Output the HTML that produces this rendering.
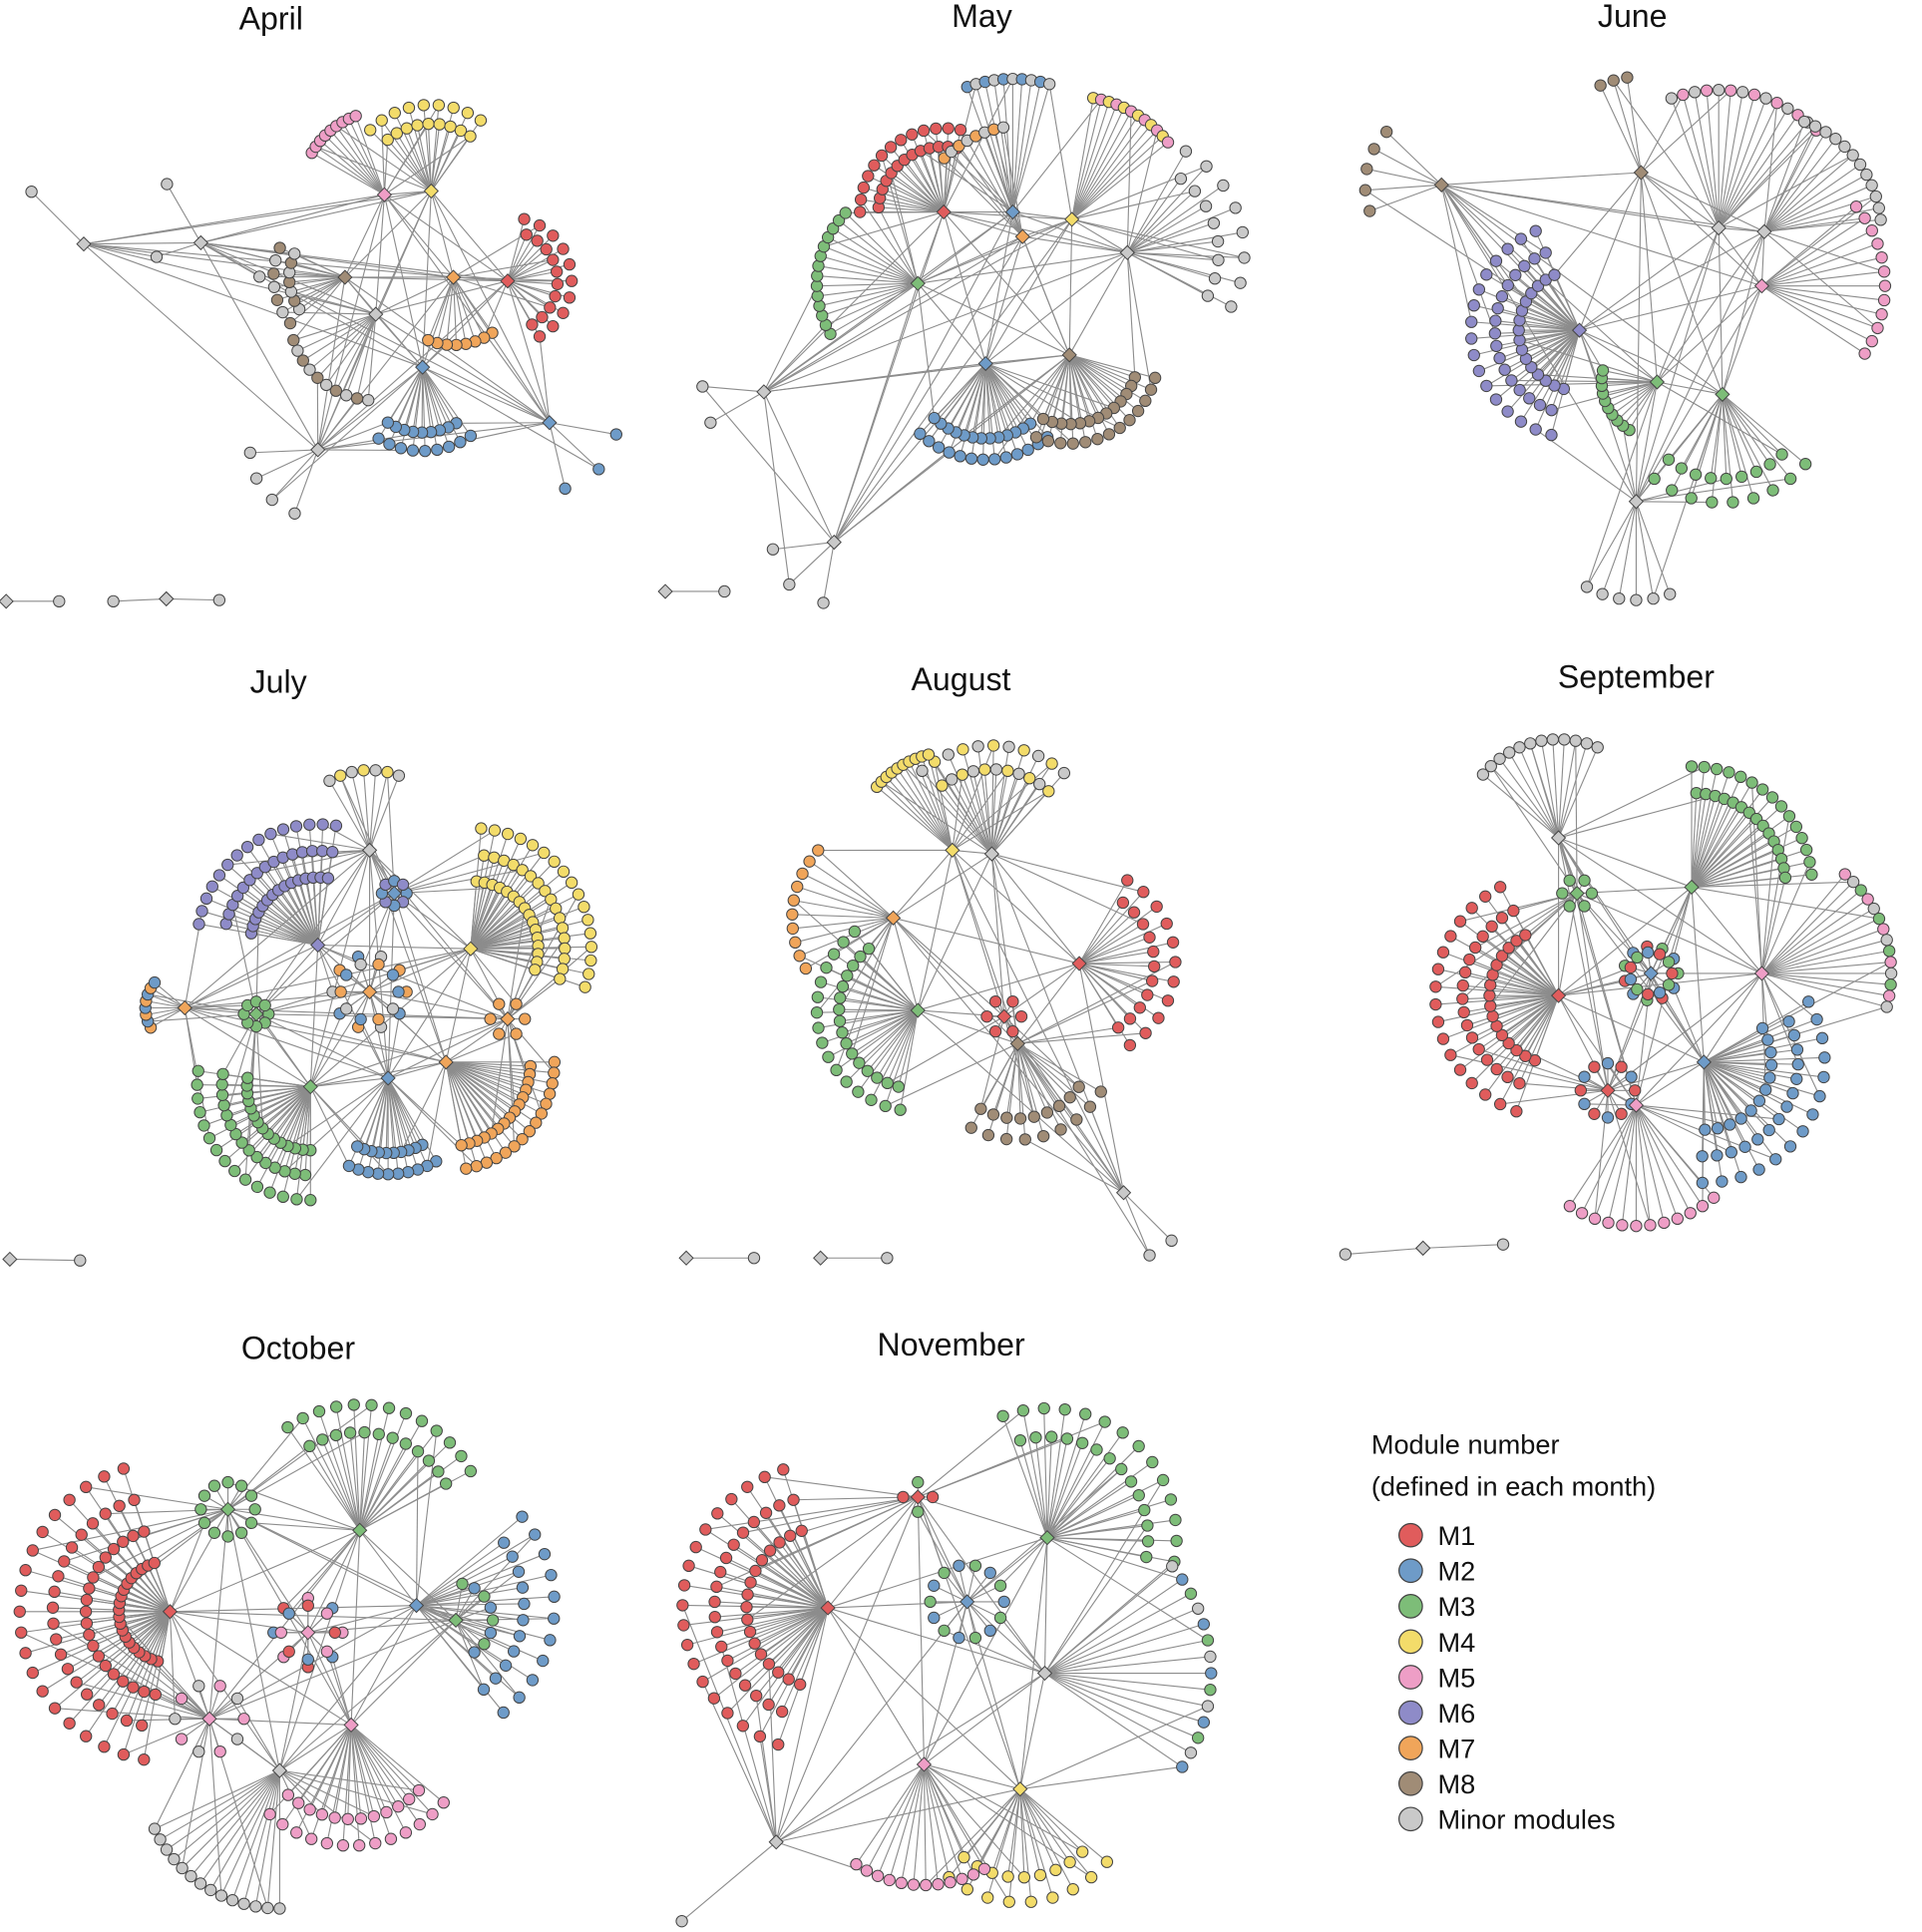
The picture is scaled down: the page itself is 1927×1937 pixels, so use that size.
<!DOCTYPE html>
<html><head><meta charset="utf-8"><style>
html,body{margin:0;padding:0;background:#fff;}
svg{display:block;font-family:"Liberation Sans",Arial,sans-serif;}
</style></head><body>
<svg id="chart" width="1927" height="1937" viewBox="0 0 1560 1568" xmlns="http://www.w3.org/2000/svg">
<g id="edges"></g>
<g id="nodes"></g>
<g font-size="26" fill="#111" text-anchor="middle">
<text x="220" y="24">April</text>
<text x="797" y="22">May</text>
<text x="1325" y="22">June</text>
<text x="226" y="562">July</text>
<text x="780" y="560">August</text>
<text x="1328" y="558">September</text>
<text x="242" y="1103">October</text>
<text x="772" y="1100">November</text>
</g>
<g id="legend" font-size="22" fill="#111">
<text x="1113" y="1180">Module number</text>
<text x="1113" y="1214">(defined in each month)</text>
</g>
</svg>
<script>
const COLORS = {r:'#e05c5c', b:'#6e9bc8', g:'#7dbd78', y:'#f3dc6a', p:'#ee9ec6', v:'#8e8bc8', o:'#f0a55a', m:'#a08c76', x:'#c9c9c9'};
const legendKeys = ['r','b','g','y','p','v','o','m','x'];
const legendLabels = ['M1','M2','M3','M4','M5','M6','M7','M8','Minor modules'];

// cluster data per month: [hubX, hubY, hubColor, leafColors, leafCount, radius, angleStart, angleEnd, rows]
const april = [
 [412,228,'r','r',20,52,-75,75,2],[343,298,'b','b',18,68,55,130,2],[350,155,'y','y',18,70,-135,-45,2],
 [312,158,'p','p',9,68,-150,-105,1],[280,225,'m','mx',14,58,140,215,2],[305,255,'x','xm',10,70,95,170,1],
 [368,225,'o','o',8,55,55,120,1],[163,197,'x','x',2,55,-120,180,1],[68,198,'x','x',2,60,-135,155,1],
 [446,343,'b','b',3,55,10,110,1],[258,365,'x','x',4,55,110,200,1]];
const may = [
 [766,172,'r','r',26,68,180,290,2],[800,295,'b','b',26,78,50,140,2],[868,288,'m','m',26,72,15,120,2],
 [745,230,'g','g',14,82,150,230,1],[915,205,'x','x',16,95,-60,40,2],[822,172,'b','bx',10,108,-110,-70,1],
 [870,178,'y','yp',12,100,-80,-35,1],[830,192,'o','ox',8,90,-135,-95,1],[620,318,'x','x',2,50,150,220,1],
 [677,440,'x','x',3,50,100,210,1]];
const june = [
 [1282,268,'v','v',50,88,105,255,3],[1398,320,'g','g',18,88,40,140,2],[1345,310,'g','g',10,45,120,200,1],
 [1395,185,'x','xp',14,112,-110,-40,1],[1432,188,'x','x',12,95,-70,0,1],[1430,232,'p','p',12,100,-40,40,1],
 [1170,150,'m','m',5,62,160,240,1],[1332,140,'m','m',3,78,-115,-90,1],[1328,407,'x','x',6,80,70,130,1]];
const july = [
 [258,767,'v','v',45,98,190,285,3],[382,770,'y','y',50,98,-85,25,3],[252,882,'g','g',45,92,90,195,3],
 [315,875,'b','b',20,78,60,120,2],[362,862,'o','o',30,88,0,85,2],[208,823,'g','g',8,10,0,360,1],
 [150,818,'o','ob',8,32,150,230,1],[300,805,'o','obx',20,30,0,360,2],[320,725,'b','bv',8,10,0,360,1],
 [300,690,'x','xy',7,65,-120,-60,1],[412,827,'o','o',6,14,0,360,1]];
const august = [
 [745,820,'g','g',32,82,100,240,2],[876,782,'r','r',22,78,-60,70,2],[826,847,'m','m',18,78,30,130,2],
 [805,693,'x','xy',22,88,-130,-40,2],[773,690,'y','y',10,80,-140,-100,1],[725,745,'o','o',10,82,150,230,1],
 [815,825,'r','r',6,14,0,360,1],[912,968,'x','x',2,55,45,90,1]];
const september = [
 [1265,808,'r','r',50,100,110,250,3],[1383,862,'b','b',40,98,-30,100,3],[1373,720,'g','g',30,98,-90,0,2],
 [1328,897,'p','p',12,98,50,130,1],[1340,790,'b','gbr',22,22,0,360,2],[1265,680,'x','x',12,80,-140,-60,1],
 [1305,885,'r','rb',12,22,0,360,1],[1430,790,'p','pxg',14,105,-50,20,1],[1280,725,'g','g',6,12,0,360,1]];
const october = [
 [138,1308,'r','r',80,122,100,260,4],[292,1242,'g','g',25,102,-125,-20,2],[338,1303,'b','b',22,112,-40,60,2],
 [285,1400,'p','p',25,98,40,140,2],[227,1437,'x','x',14,112,90,160,1],[185,1225,'g','g',12,22,0,360,1],
 [250,1325,'p','pbr',16,28,0,360,2],[170,1395,'p','px',10,28,0,360,1],[370,1315,'g','gb',8,30,-80,80,1]];
const november = [
 [672,1305,'r','r',55,118,110,260,3],[850,1248,'g','g',28,105,-110,20,2],[828,1452,'y','y',18,92,40,140,2],
 [750,1432,'p','p',12,98,60,130,1],[848,1358,'x','xbg',14,135,-40,40,1],[785,1300,'b','bg',14,30,0,360,1],
 [745,1215,'r','rg',4,12,0,360,1],[630,1495,'x','x',1,100,140,140,1]];
const months = [april, may, june, july, august, september, october, november];

// isolated pairs/chains: [x1,y1,kind1,x2,y2,kind2] kind d=diamond,c=circle
const chains = [
 [5,488,'d',48,488,'c'],[92,488,'c',135,486,'d'],[135,486,'d',178,487,'c'],
 [540,480,'d',588,480,'c'],[8,1022,'d',65,1023,'c'],[557,1021,'d',612,1021,'c'],
 [666,1021,'d',720,1021,'c'],[1092,1018,'c',1155,1013,'d'],[1155,1013,'d',1220,1010,'c']];

const NS='http://www.w3.org/2000/svg';
const eG=document.getElementById('edges'), nG=document.getElementById('nodes');
function line(x1,y1,x2,y2){
 const l=document.createElementNS(NS,'line');
 l.setAttribute('x1',x1);l.setAttribute('y1',y1);l.setAttribute('x2',x2);l.setAttribute('y2',y2);
 l.setAttribute('stroke','#8c8c8c');l.setAttribute('stroke-width','0.9');
 
 
 eG.appendChild(l);
}
function circ(x,y,c){
 const e=document.createElementNS(NS,'circle');
 e.setAttribute('cx',x);e.setAttribute('cy',y);e.setAttribute('r',4.6);
 e.setAttribute('fill',COLORS[c]);e.setAttribute('stroke','#444');e.setAttribute('stroke-width','0.8');
 
 
 nG.appendChild(e);
}
function diam(x,y,c){
 const e=document.createElementNS(NS,'polygon'); const s=5.6;
 e.setAttribute('points',`${x},${y-s} ${x+s},${y} ${x},${y+s} ${x-s},${y}`);
 e.setAttribute('fill',COLORS[c]);e.setAttribute('stroke','#444');e.setAttribute('stroke-width','0.8');
 
 
 nG.appendChild(e);
}
months.forEach(clusters=>{
 for(let i=0;i<clusters.length;i++)for(let j=i+1;j<clusters.length;j++){
  const a=clusters[i],b=clusters[j];
  if(Math.hypot(a[0]-b[0],a[1]-b[1])<330) line(a[0],a[1],b[0],b[1]);
 }
 const leaves=[];
 clusters.forEach((c,ci)=>{
  const [hx,hy,hc,lc,n,r,a0,a1,rows]=c;
  const perRow=Math.ceil(n/rows); let k=0;
  for(let row=0;row<rows&&k<n;row++){
   const rr=r*(1-0.22*row); const m=Math.min(perRow,n-k);
   const full=(a1-a0)>=360;
   for(let i=0;i<m;i++,k++){
    const t=full? i/m : (m===1?0.5:(i+(row%2)*0.5)/(m-0.5*(row%2?0:1)+ (row%2?0.5:0.5)));
    const ang=(a0+(a1-a0)*Math.min(1,t))*Math.PI/180;
    const x=hx+rr*Math.cos(ang), y=hy+rr*Math.sin(ang);
    line(hx,hy,x,y);
    if(k%4===1 && clusters.length>1){
     let best=null,bd=1e9;
     clusters.forEach((o,oi)=>{ if(oi!==ci){const d=Math.hypot(o[0]-x,o[1]-y); if(d<bd){bd=d;best=o;}}});
     if(best && bd<260) line(best[0],best[1],x,y);
    }
    leaves.push([x,y,lc[k%lc.length]]);
   }
  }
 });
 leaves.forEach(l=>circ(l[0],l[1],l[2]));
 clusters.forEach(c=>diam(c[0],c[1],c[2]));
});
chains.forEach(c=>{
 line(c[0],c[1],c[3],c[4]);
 [[c[0],c[1],c[2]],[c[3],c[4],c[5]]].forEach(p=>{ if(p[2]==='d') diam(p[0],p[1],'x'); else circ(p[0],p[1],'x'); });
});
const lg=document.getElementById('legend');
legendKeys.forEach((k,i)=>{
 const y=1246+28.8*i;
 const c=document.createElementNS(NS,'circle');
 c.setAttribute('cx',1145);c.setAttribute('cy',y);c.setAttribute('r',9.5);
 c.setAttribute('fill',COLORS[k]);c.setAttribute('stroke','#444');c.setAttribute('stroke-width','1');
 
 
 lg.appendChild(c);
 const t=document.createElementNS(NS,'text');
 t.setAttribute('x',1167);t.setAttribute('y',y+8);t.textContent=legendLabels[i];
 
 
 lg.appendChild(t);
});
</script>
</body></html>
